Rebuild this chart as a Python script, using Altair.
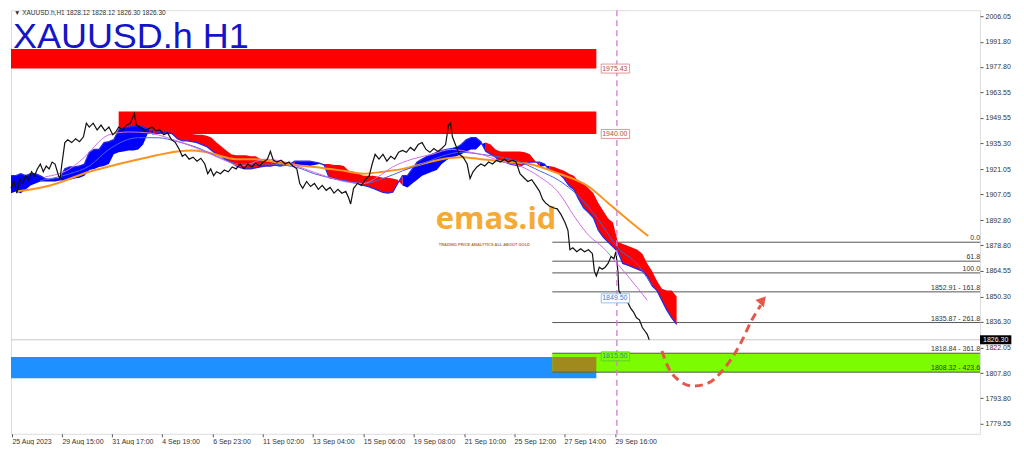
import altair as alt
import pandas as pd

# ---------------- axis ticks ----------------
tick_pos = [1, 52, 103, 154, 206, 257, 308, 360, 411, 463, 514, 565, 617]
tick_lab = ["25 Aug 2023", "29 Aug 15:00", "31 Aug 17:00", "4 Sep 19:00", "6 Sep 23:00",
            "11 Sep 02:00", "13 Sep 04:00", "15 Sep 06:00", "19 Sep 08:00", "21 Sep 10:00",
            "25 Sep 12:00", "27 Sep 14:00", "29 Sep 16:00"]
price_ticks = [2006.05, 1991.80, 1977.80, 1963.55, 1949.55, 1935.30, 1921.05, 1907.05, 1892.80,
               1878.80, 1864.55, 1850.30, 1836.30, 1822.05, 1807.80, 1793.80, 1779.55]

# ---------------- price (close) ----------------
px = [0,3,6,9,12,15,18,21,24,27,30,33,36,39,42,45,48,50,52,55,58,62,66,70,74,77,80,84,88,92,
      96,100,104,107,110,114,118,122,126,128,132,136,140,144,148,152,156,160,164,168,172,175,178,182,186,190,194,198,201,204,
      207,210,214,218,222,226,230,234,238,242,246,250,254,258,262,265,268,272,276,280,284,288,292,295,298,302,306,310,314,318,
      322,326,330,334,338,342,345,347,350,354,358,362,366,369,372,376,380,384,388,392,396,400,404,408,412,416,420,424,428,432,
      436,440,444,447,449,451,454,458,462,466,469,472,476,480,484,488,492,496,500,504,508,512,516,520,524,528,532,536,540,543,
      546,550,554,558,562,566,569,571,574,578,582,586,590,594,596,598,601,604,607,610,613,616,618,620,621,624,627,630,633,636,
      639,642,645,648,650,652]
close = [1910.4,1914.2,1907.7,1915.8,1913.1,1917.4,1915.2,1919.6,1917.4,1921.2,
         1923.9,1919.6,1922.8,1921.2,1925.0,1923.9,1918.5,1915.2,1923.9,1935.8,
         1937.4,1935.8,1937.9,1936.3,1939.0,1946.6,1944.4,1946.6,1942.8,1945.5,
         1942.3,1944.4,1940.1,1941.7,1944.4,1942.8,1945.5,1946.6,1952.0,1945.5,
         1944.4,1942.3,1943.3,1944.4,1942.3,1942.8,1940.1,1941.2,1937.4,1935.8,
         1932.0,1928.2,1929.3,1926.6,1927.7,1925.5,1927.1,1923.9,1918.5,1921.2,
         1917.4,1919.6,1918.5,1920.6,1919.6,1922.3,1921.2,1923.9,1921.2,1923.9,
         1922.3,1924.4,1922.8,1925.0,1926.6,1930.9,1926.0,1925.0,1926.0,1923.9,
         1925.0,1922.8,1921.2,1913.1,1910.4,1914.2,1911.4,1913.1,1909.8,1912.0,
         1909.3,1910.9,1907.7,1909.8,1907.7,1908.7,1905.0,1901.7,1910.4,1913.1,
         1912.0,1915.2,1917.4,1923.9,1929.3,1926.6,1929.3,1925.5,1928.2,1926.6,
         1930.4,1931.4,1930.4,1933.1,1931.4,1934.7,1935.8,1932.0,1930.4,1932.5,
         1930.9,1932.5,1934.7,1945.5,1946.6,1939.0,1934.7,1929.3,1927.7,1923.9,
         1915.8,1919.6,1922.3,1923.9,1922.8,1925.0,1923.9,1926.0,1925.0,1926.6,
         1925.0,1926.0,1925.0,1918.5,1916.3,1914.2,1915.2,1912.0,1908.7,1904.4,
         1902.3,1900.6,1899.6,1899.0,1895.8,1891.4,1887.1,1876.3,1877.4,1875.2,
         1876.9,1875.2,1876.3,1874.1,1864.4,1861.7,1866.6,1865.5,1866.6,1868.7,
         1872.5,1871.4,1875.2,1864.4,1853.6,1850.4,1851.4,1847.1,1843.9,1841.7,
         1838.5,1837.4,1833.1,1830.9,1829.3,1826.3]

# ---------------- Ichimoku cloud ----------------
cloud_x = list(range(0, 681, 5))
span_a = [1917.4,1917.4,1918.5,1917.4,1918.5,1918.5,1917.4,1915.8,1915.2,1915.8,
          1915.8,1921.2,1922.3,1922.3,1922.8,1923.9,1930.4,1932.0,1932.0,1935.8,
          1936.3,1937.4,1942.8,1943.9,1944.4,1945.0,1945.0,1944.4,1943.3,1940.6,
          1941.2,1941.7,1941.2,1940.6,1937.9,1936.8,1936.8,1936.3,1935.8,1934.7,
          1933.6,1931.4,1929.3,1928.2,1926.0,1925.0,1922.8,1921.7,1921.2,1921.2,
          1921.7,1922.3,1922.8,1922.8,1923.3,1922.8,1923.3,1923.9,1925.5,1925.5,
          1925.5,1925.5,1925.0,1924.4,1923.3,1916.3,1915.8,1915.2,1914.7,1914.2,
          1913.6,1913.1,1912.0,1911.4,1910.4,1909.3,1908.2,1907.7,1908.2,1913.1,
          1917.4,1917.4,1921.2,1925.0,1926.6,1928.2,1929.3,1930.4,1931.4,1932.0,
          1932.5,1933.1,1934.7,1937.4,1938.5,1938.5,1936.3,1930.9,1929.3,1927.7,
          1925.5,1925.0,1923.9,1923.3,1922.8,1923.9,1925.0,1925.0,1925.0,1923.9,
          1920.6,1919.6,1918.5,1915.8,1912.0,1909.8,1904.4,1899.6,1896.9,1894.1,
          1887.1,1883.3,1880.6,1878.0,1875.2,1868.7,1867.7,1866.6,1865.5,1864.4,
          1861.7,1856.3,1853.6,1848.2,1842.8,1838.5,1834.9]
span_b = [1907.7,1908.7,1907.7,1909.8,1912.0,1913.1,1914.2,1914.2,1914.2,1914.2,
          1914.7,1914.7,1915.2,1915.8,1916.3,1917.4,1920.6,1921.2,1922.3,1922.8,
          1923.9,1929.3,1930.4,1930.9,1931.4,1931.4,1932.0,1934.7,1941.2,1942.8,
          1943.3,1943.3,1942.8,1942.8,1941.7,1941.2,1940.6,1940.6,1940.1,1940.1,
          1939.6,1938.5,1935.8,1933.6,1931.4,1929.3,1928.7,1928.7,1928.7,1928.2,
          1928.2,1926.6,1925.5,1925.5,1925.5,1925.0,1925.0,1924.4,1923.9,1923.3,
          1923.3,1922.8,1923.3,1923.9,1923.9,1923.9,1923.3,1923.3,1922.8,1920.1,
          1919.6,1918.5,1917.4,1917.4,1917.4,1916.8,1916.3,1916.3,1915.8,1915.2,
          1912.0,1910.9,1913.1,1915.2,1917.4,1918.5,1919.6,1920.6,1923.9,1926.0,
          1927.7,1928.2,1929.3,1930.9,1932.0,1932.0,1934.7,1935.8,1934.7,1932.0,
          1930.9,1930.9,1930.9,1930.9,1930.9,1930.4,1929.3,1926.0,1922.3,1922.8,
          1922.8,1922.3,1921.2,1920.1,1918.5,1917.4,1914.2,1913.1,1910.4,1907.7,
          1902.3,1898.0,1893.6,1891.4,1880.6,1879.5,1878.5,1877.4,1876.3,1874.1,
          1868.7,1864.4,1859.0,1854.7,1853.6,1853.6,1850.4]

# ---------------- moving averages ----------------
ma_slow_x = [5,15,40,80,110,140,170,185,200,230,250,280,310,340,360,380,400,420,440,460,480,500,530,560,590,610,630,651]
ma_slow_y = [1908.7,1909.3,1912.0,1919.6,1923.9,1927.7,1930.9,1931.4,1930.4,1926.6,
             1926.6,1923.9,1922.3,1920.1,1918.5,1919.6,1921.2,1923.9,1926.6,1927.7,
             1926.6,1925.5,1923.9,1918.5,1911.4,1902.3,1893.1,1883.9]
ma_mid_x = [30,60,80,100,130,150,170,190,210,235,260,290,310,340,360,380,400,420,440,460,480,500,520,540,560,580,600,620,640,655]
ma_mid_y = [1914.7,1918.5,1922.8,1932.0,1938.5,1938.5,1936.3,1933.1,1928.2,1923.9,
            1923.9,1922.3,1918.5,1914.7,1913.1,1915.8,1920.1,1923.9,1928.2,1930.4,
            1929.3,1927.7,1925.0,1920.1,1914.7,1906.0,1893.1,1877.4,1868.2,1856.3]
ma_fast_x = [35,60,80,90,100,120,140,160,180,200,220,235,260,280,300,320,340,360,375,390,410,430,450,470,480,500,520,540,560,575,590,605,620,640,650]
ma_fast_y = [1916.8,1921.2,1930.4,1936.3,1940.1,1941.7,1941.2,1938.5,1934.7,1930.4,
             1925.5,1922.8,1926.6,1925.0,1921.2,1917.4,1914.2,1913.1,1916.8,1922.3,
             1926.6,1929.3,1932.0,1930.4,1929.3,1925.5,1922.8,1916.8,1907.7,1895.2,
             1884.4,1877.4,1868.2,1855.2,1848.2]

# ---------------- zones ----------------
zone_name = ["supply1", "supply2", "demand", "target", "overlap"]
zone_x0 = [0, 110, 0, 553, 553]
zone_x1 = [598, 598, 598, 990, 598]
zone_lo = [1976.9, 1940.6, 1804.9, 1808.32, 1808.32]
zone_hi = [1987.7, 1953.1, 1816.8, 1818.84, 1816.8]

# ---------------- fibonacci ----------------
fib_price = [1880.48, 1869.95, 1863.44, 1852.91, 1835.87, 1818.84, 1808.32]
fib_label = ["0.0", "61.8", "100.0", "1852.91 - 161.8", "1835.87 - 261.8", "1818.84 - 361.8", "1808.32 - 423.6"]
fib_x0, fib_x1 = 553, 990

# ---------------- price tags ----------------
tag_text = ["1975.43", "1940.00", "1849.50", "1815.50"]
tag_price = [1976.9, 1940.6, 1849.3, 1817.1]
tag_kind = ["r", "r", "b", "g"]

last_price = 1826.30
cursor_bar = 619

arrow_x = [665, 672, 682, 697, 712, 727, 745, 757, 766]
arrow_y = [1820.1, 1810.4, 1803.9, 1800.6, 1802.2, 1809.3, 1823.9, 1837.4, 1845.5]

# ======================================================
FONT = "Liberation Sans"
xs = alt.Scale(domain=[0, 990], nice=False, zero=False)
ys = alt.Scale(domain=[1774.1, 2009.3], nice=False, zero=False)

lab_expr = ("[" + ",".join("'%s'" % s for s in tick_lab) + "][indexof(["
            + ",".join(str(v) for v in tick_pos) + "], datum.value)]")
xaxis = alt.Axis(values=tick_pos, labelExpr=lab_expr, title=None, grid=False, domain=False,
                 tickSize=3, tickColor="#555", labelFontSize=7, labelFont=FONT, labelColor="#333",
                 labelAlign="left", labelPadding=1, labelOverlap=False, labelFlush=False)
yaxis = alt.Axis(orient="right", values=price_ticks, format=".2f", title=None, grid=False,
                 domain=False, tickSize=3, tickColor="#555", labelFontSize=7, labelFont=FONT,
                 labelColor="#333", labelPadding=2, labelOverlap=False, labelFlush=False)


def X(f, **k):
    return alt.X(f, type="quantitative", scale=xs, axis=xaxis, **k)


def Y(f, **k):
    return alt.Y(f, type="quantitative", scale=ys, axis=yaxis, **k)


# zones
zdf = pd.DataFrame(dict(name=zone_name, x0=zone_x0, x1=zone_x1, lo=zone_lo, hi=zone_hi))
zone_colors = {"supply1": "#FF0000", "supply2": "#FF0000", "demand": "#1E90FF",
               "target": "#7CFC00", "overlap": "#A08A1E"}
zone_layers = [
    alt.Chart(zdf).transform_filter(alt.datum.name == n).mark_rect(color=c).encode(
        x=X("x0"), x2="x1", y=Y("lo"), y2="hi")
    for n, c in zone_colors.items()
]

# fib lines + labels
fdf = pd.DataFrame(dict(p=fib_price, lab=fib_label, x0=fib_x0, x1=fib_x1))
fib_lines = alt.Chart(fdf).mark_rule(color="#555", strokeWidth=1).encode(x=X("x0"), x2="x1", y=Y("p"))
fib_text = alt.Chart(fdf).mark_text(align="right", baseline="bottom", dy=-1, fontSize=7, font=FONT,
                                    color="#333").encode(x=X("x1"), y=Y("p"), text="lab:N")

# last price line
lp = pd.DataFrame(dict(p=[last_price], x0=[0], x1=[990], lab=["%.2f" % last_price],
                       bx0=[990], bx1=[1022]))
lp_line = alt.Chart(lp).mark_rule(color="#C8C8C8", strokeWidth=1).encode(x=X("x0"), x2="x1", y=Y("p"))

# cloud
rows = []
seg = 0
prev = None
for i in range(len(cloud_x)):
    col = "bull" if span_a[i] >= span_b[i] else "bear"
    if prev is not None and col != prev:
        rows.append(dict(x=cloud_x[i], a=span_a[i], b=span_b[i], seg=seg, col=prev))
        seg += 1
    rows.append(dict(x=cloud_x[i], a=span_a[i], b=span_b[i], seg=seg, col=col))
    prev = col
cdf = pd.DataFrame(rows)
cloud_bull = alt.Chart(cdf).transform_filter(alt.datum.col == "bull").mark_area(
    color="#0000FF", opacity=1).encode(x=X("x"), y=Y("a"), y2="b", detail="seg:N")
cloud_bear = alt.Chart(cdf).transform_filter(alt.datum.col == "bear").mark_area(
    color="#FF0000", opacity=1).encode(x=X("x"), y=Y("a"), y2="b", detail="seg:N")
adf = pd.DataFrame(dict(x=cloud_x, a=span_a))
span_line = alt.Chart(adf).mark_line(color="#2A2AE6", strokeWidth=1.3).encode(x=X("x"), y=Y("a"))


# MAs
def ma(xv, yv, color, w):
    d = pd.DataFrame(dict(x=xv, y=yv))
    return alt.Chart(d).mark_line(color=color, strokeWidth=w, interpolate="monotone").encode(
        x=X("x"), y=Y("y"))


ma_slow = ma(ma_slow_x, ma_slow_y, "#F7931E", 2)
ma_mid = ma(ma_mid_x, ma_mid_y, "#4A62E0", 1)
ma_fast = ma(ma_fast_x, ma_fast_y, "#D46BE0", 1)

# price
pdf = pd.DataFrame(dict(x=px, c=close))
price = alt.Chart(pdf).mark_line(color="#111", strokeWidth=1.2).encode(x=X("x"), y=Y("c"))

# vertical dashed cursor line
vdf = pd.DataFrame(dict(x=[cursor_bar]))
vline = alt.Chart(vdf).mark_rule(color="#D27BD6", strokeWidth=1.3, strokeDash=[6, 4]).encode(x=X("x"))

# price tags
tdf = pd.DataFrame(dict(t=tag_text, p=tag_price, k=tag_kind, x0=603, x1=632))
tag_style = {"r": ("#FFFFFF", "#E07A7A", "#B05050"),
             "b": ("#FFFFFF", "#7FB2E6", "#3A7FC8"),
             "g": ("#7CFC00", "#5CC040", "#2A8FA0")}
tag_layers = []
for k, (fill, stroke, tcol) in tag_style.items():
    base = alt.Chart(tdf).transform_filter(alt.datum.k == k)
    tag_layers.append(base.mark_rect(fill=fill, stroke=stroke, strokeWidth=0.8, height=9).encode(
        x=X("x0"), x2="x1", y=Y("p")))
    tag_layers.append(base.mark_text(align="left", baseline="middle", fontSize=7, font=FONT, dx=1,
                                     color=tcol).encode(x=X("x0"), y=Y("p"), text="t:N"))

# last price box on axis
lp_box = alt.Chart(lp).mark_rect(color="#000", height=9).encode(x=X("bx0"), x2="bx1", y=Y("p"))
lp_text = alt.Chart(lp).mark_text(align="left", baseline="middle", fontSize=7, font=FONT,
                                  color="#FFF", dx=3).encode(x=X("bx0"), y=Y("p"), text="lab:N")

# titles
ttl = pd.DataFrame(dict(x=[2], y=[1988.3], t=["XAUUSD.h H1"]))
title = alt.Chart(ttl).mark_text(align="left", baseline="alphabetic", fontSize=36, font=FONT,
                                 color="#1414C8").encode(x=X("x"), y=Y("y"), text="t:N")
info = pd.DataFrame(dict(x=[3], y=[2006.4], t=["\u25bc XAUUSD.h,H1  1828.12 1828.12 1826.30 1826.30"]))
info_t = alt.Chart(info).mark_text(align="left", baseline="alphabetic", fontSize=6.5, font=FONT,
                                   color="#333").encode(x=X("x"), y=Y("y"), text="t:N")

# watermark
wm = pd.DataFrame(dict(x=[434], y=[1887.6], t=["emas.id"]))
wm_t = alt.Chart(wm).mark_text(align="left", baseline="alphabetic", fontSize=31, font="Open Sans",
                               fontWeight="bold", color="#F4A62A", opacity=0.95).encode(
    x=X("x"), y=Y("y"), text="t:N")
wm2 = pd.DataFrame(dict(x=[437], y=[1878.6], t=["TRADING PRICE ANALYTICS ALL ABOUT GOLD"]))
wm2_t = alt.Chart(wm2).mark_text(align="left", baseline="alphabetic", fontSize=4, font=FONT,
                                 fontWeight="bold", color="#B8782A").encode(x=X("x"), y=Y("y"), text="t:N")

# curved arrow
ardf = pd.DataFrame(dict(x=arrow_x, y=arrow_y))
arrow = alt.Chart(ardf).mark_line(color="#E2584A", strokeWidth=3, strokeDash=[8, 5],
                                  interpolate="monotone").encode(x=X("x"), y=Y("y"))
head = alt.Chart(pd.DataFrame(dict(x=[768], y=[1848.4]))).mark_point(
    shape="triangle-up", filled=True, size=120, angle=40, color="#E2584A", opacity=1).encode(
    x=X("x"), y=Y("y"))

chart = alt.layer(
    *zone_layers, lp_line, fib_lines, wm_t, wm2_t, cloud_bull, cloud_bear, span_line,
    ma_slow, ma_mid, ma_fast, price, vline, *tag_layers, fib_text, arrow, head, lp_box, lp_text,
    title, info_t
).properties(
    width=970, height=424, padding={"left": 0, "top": 1, "right": 4, "bottom": 0}
).configure_view(stroke="#9A9A9A", strokeWidth=1).configure(background="white")

chart.save("out.html", embed_options={"renderer": "svg", "actions": False})
